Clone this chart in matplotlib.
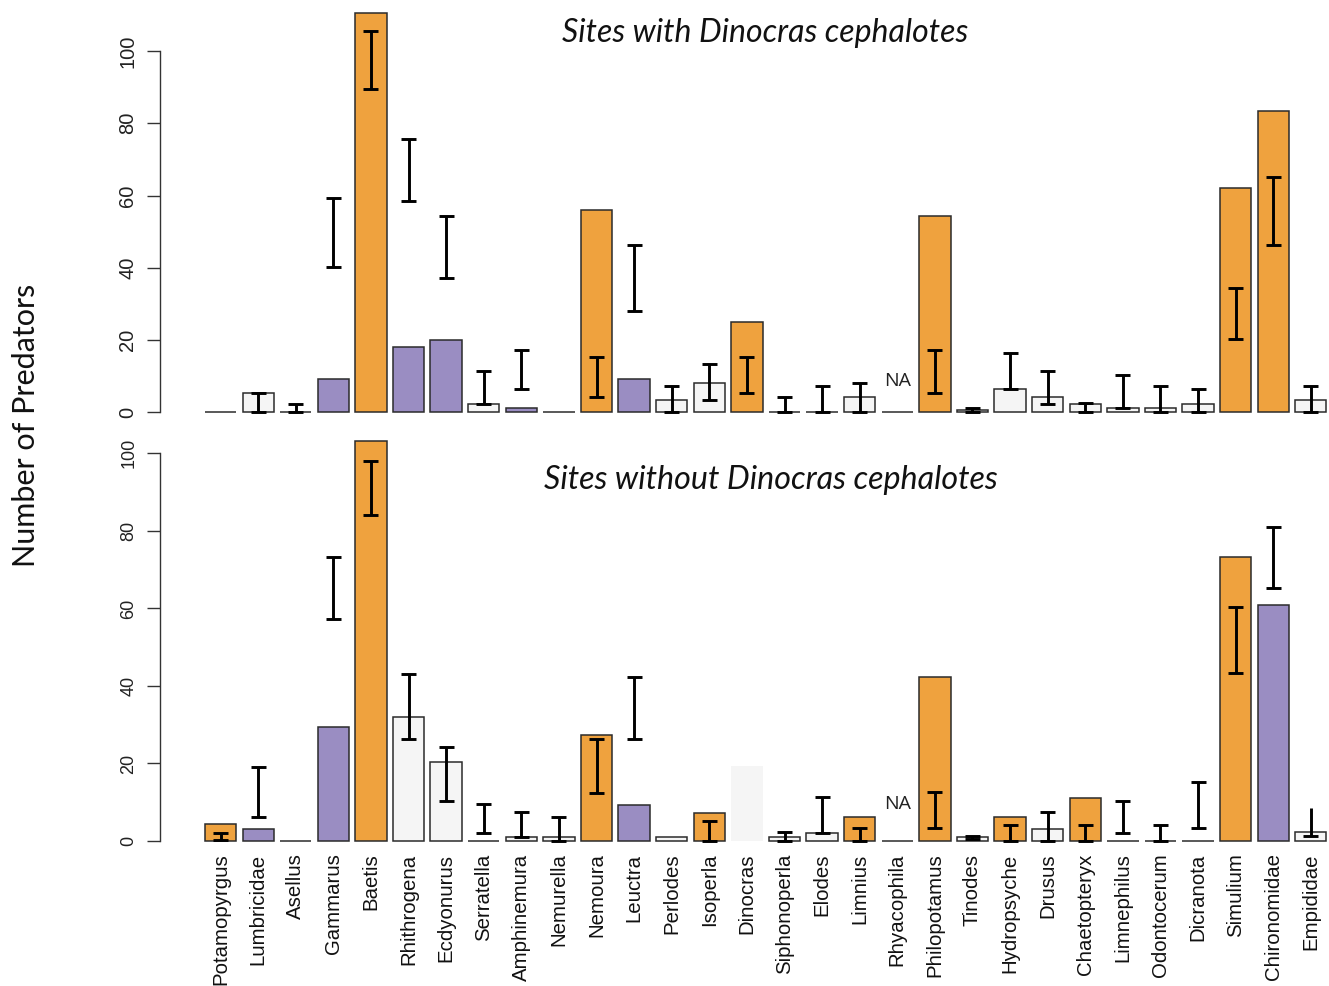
import numpy as np
import matplotlib
matplotlib.use("Agg")
import matplotlib.pyplot as plt

taxa = ["Potamopyrgus", "Lumbricidae", "Asellus", "Gammarus", "Baetis", "Rhithrogena",
        "Ecdyonurus", "Serratella", "Amphinemura", "Nemurella", "Nemoura", "Leuctra",
        "Perlodes", "Isoperla", "Dinocras", "Siphonoperla", "Elodes", "Limnius",
        "Rhyacophila", "Philopotamus", "Tinodes", "Hydropsyche", "Drusus", "Chaetopteryx",
        "Limnephilus", "Odontocerum", "Dicranota", "Simulium", "Chironomidae", "Empididae"]

# Sites with Dinocras cephalotes
with_values = [0, 5.3, 0, 9.2, 110.4, 18.2, 20.0, 2.2, 1.1, 0, 56.0, 9.2, 3.4, 8.0, 25.1,
               0, 0, 4.1, 0, 54.2, 0.5, 6.4, 4.1, 2.2, 1.1, 1.1, 2.2, 62.2, 83.5, 3.4]
with_group = ["w", "w", "w", "p", "o", "p", "p", "w", "p", "w", "o", "p", "w", "w", "o",
              "w", "w", "w", "w", "o", "w", "w", "w", "w", "w", "w", "w", "o", "o", "w"]
with_err_lo = [None, 0, 0, 40.2, 89.4, 58.4, 37.3, 2.2, 6.4, None, 4.2, 28.1, 0, 3.4, 5.3,
               0, 0, 0, None, 5.3, 0, 6.4, 2.3, 0, 1.1, 0, 0, 20.2, 46.3, 0]
with_err_hi = [None, 5.3, 2.3, 59.4, 105.4, 75.6, 54.3, 11.5, 17.2, None, 15.4, 46.4, 7.4, 13.3, 15.4,
               4.2, 7.4, 8.1, None, 17.3, 1.2, 16.3, 11.5, 2.5, 10.3, 7.4, 6.4, 34.3, 65.2, 7.4]
with_na = [8.7 if t == "Rhyacophila" else None for t in taxa]

# Sites without Dinocras cephalotes
without_values = [4.3, 3.1, 0, 29.3, 103.2, 32.1, 20.3, 0, 1.1, 1.1, 27.3, 9.3, 1.1, 7.3, 19.3,
                  1.1, 2.1, 6.1, 0, 42.2, 1.1, 6.1, 3.1, 11.2, 0, 0, 0, 73.2, 60.9, 2.4]
without_group = ["o", "p", "w", "p", "o", "w", "w", "w", "w", "w", "o", "p", "w", "o", "g",
                 "w", "w", "o", "w", "o", "w", "o", "w", "o", "w", "w", "w", "o", "p", "w"]
without_err_lo = [0.3, 6.3, None, 57.2, 84.0, 26.2, 10.3, 2.1, 1.1, 0, 12.5, 26.2, None, 0, None,
                  0, 2.1, 0, None, 3.3, 0.4, 0, 0, 0, 2.1, 0, 3.3, 43.3, 65.2, 1.3]
without_err_hi = [2.1, 19.2, None, 73.3, 98.0, 43.2, 24.3, 9.5, 7.4, 6.3, 26.2, 42.4, None, 5.2, None,
                  2.2, 11.4, 3.3, None, 12.6, 1.3, 4.1, 7.4, 4.1, 10.3, 4.1, 15.1, 60.3, 80.9, 8.5]
without_topcap = [t != "Empididae" for t in taxa]
without_na = [9.5 if t == "Rhyacophila" else None for t in taxa]

yticks = [0, 20, 40, 60, 80, 100]

FILL = {"o": "#EFA23E", "p": "#9A8DC2", "w": "#F5F5F5", "g": "#F5F5F5"}
EDGE = {"o": "#2b2b2b", "p": "#2b2b2b", "w": "#2b2b2b", "g": "none"}

W, H = 1329, 986
fig = plt.figure(figsize=(W / 100, H / 100), dpi=100)

x = 0.7 + 1.2 * np.arange(len(taxa))
xlim = (-1.234, 36.08)
left_px = 160


def panel(rect, values, groups, lo, hi, topcap, na, tick_fs):
    ax = fig.add_axes(rect)
    for i in range(len(values)):
        g = groups[i]
        ax.bar(x[i], values[i], width=1.0, color=FILL[g], edgecolor=EDGE[g],
               linewidth=1.1, clip_on=False, zorder=2)
    for i in range(len(values)):
        if lo[i] is None:
            continue
        ax.vlines(x[i], lo[i], hi[i], color="black", linewidth=2.1, zorder=3, clip_on=False)
        ax.hlines(lo[i], x[i] - 0.24, x[i] + 0.24, color="black", linewidth=2.1, zorder=3, clip_on=False)
        if topcap[i]:
            ax.hlines(hi[i], x[i] - 0.24, x[i] + 0.24, color="black", linewidth=2.1, zorder=3, clip_on=False)
    for i in range(len(values)):
        if na[i] is not None:
            ax.text(x[i], na[i], "NA", ha="center", va="center", fontsize=14,
                    family="Open Sans", color="#222222")
    ax.set_xlim(*xlim)
    ax.set_ylim(0, 100)
    for s in ["top", "right", "bottom"]:
        ax.spines[s].set_visible(False)
    ax.spines["left"].set_bounds(0, 100)
    ax.spines["left"].set_color("#333333")
    ax.spines["left"].set_linewidth(1.0)
    ax.set_yticks(yticks)
    ax.set_yticklabels([str(v) for v in yticks], rotation=90, va="center",
                       fontsize=tick_fs, family="Liberation Sans", color="#222222")
    ax.tick_params(axis="y", length=9.4, width=1.0, color="#333333", pad=7)
    return ax


top_bottom_px, top_top_px = 412.3, 51.0
bot_bottom_px, bot_top_px = 841.0, 453.3

ax1 = panel([left_px / W, 1 - top_bottom_px / H, 1 - left_px / W, (top_bottom_px - top_top_px) / H],
            with_values, with_group, with_err_lo, with_err_hi, [True] * len(taxa), with_na, 14.5)
ax1.set_xticks([])

ax2 = panel([left_px / W, 1 - bot_bottom_px / H, 1 - left_px / W, (bot_bottom_px - bot_top_px) / H],
            without_values, without_group, without_err_lo, without_err_hi, without_topcap, without_na, 13)
ax2.set_xticks(x)
ax2.set_xticklabels(taxa, rotation=90, fontsize=14.7, family="Liberation Sans", color="#111111")
ax2.tick_params(axis="x", length=0, pad=9)

fig.text(765 / W, 1 - 33 / H, "Sites with Dinocras cephalotes", ha="center", va="center",
         fontsize=23, style="italic", family="Lato", color="#111111")
fig.text(771 / W, 1 - 480 / H, "Sites without Dinocras cephalotes", ha="center", va="center",
         fontsize=23.2, style="italic", family="Lato", color="#111111")
fig.text(26 / W, 1 - 425 / H, "Number of Predators", ha="center", va="center", rotation=90,
         fontsize=22, family="Lato", color="#111111")

fig.savefig("out.png", dpi=100)
